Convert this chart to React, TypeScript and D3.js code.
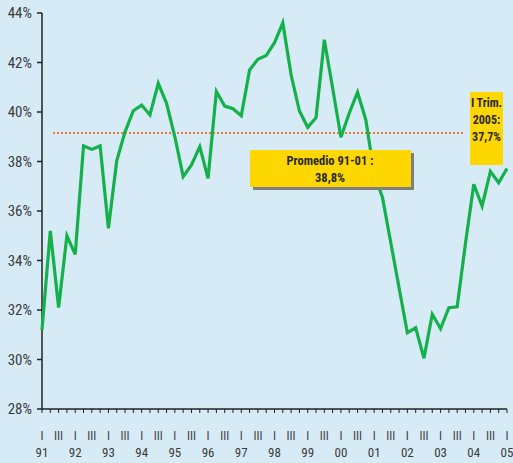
import * as d3 from 'd3';

const years = ["91", "92", "93", "94", "95", "96", "97", "98", "99", "00", "01", "02", "03", "04", "05"];
const quarterMarks = ["I", "", "III", ""];
const yTicks = [28, 30, 32, 34, 36, 38, 40, 42, 44];

// share, % per quarter, 1991 I .. 2005 I
const values = [
  31.2, 35.2, 32.1, 35.0,
  34.25, 38.63, 38.49, 38.63,
  35.3, 38.03, 39.2, 40.05,
  40.28, 39.88, 41.16, 40.35,
  39.0, 37.39, 37.86, 38.6,
  37.32, 40.83, 40.24, 40.13,
  39.85, 41.7, 42.13, 42.28,
  42.8, 43.6, 41.5, 40.04,
  39.38, 39.77, 42.92, 40.97,
  38.98, 39.95, 40.8, 39.68,
  37.5, 36.55, 34.73, 32.9,
  31.08, 31.28, 30.05, 31.83,
  31.25, 32.09, 32.13, 34.7,
  37.08, 36.2, 37.6, 37.14,
  37.72,
];
const averageLevel = 39.15; // where the dotted line sits in the picture
const averageLabel = ["Promedio 91-01 :", "38,8%"];
const lastLabel = ["I Trim.", "2005:", "37,7%"];

const W = 513;
const H = 463;
const font = "'Liberation Sans Narrow', 'Arial Narrow', 'Roboto Condensed', sans-serif";

export default function App() {
  const x = d3.scaleLinear().domain([0, values.length - 1]).range([42, 507]);
  const y = d3.scaleLinear().domain([28, 44]).range([409, 13]);

  const line = d3.line<number>()
    .x((d, i) => x(i))
    .y(d => y(d));

  const quarterIdx = d3.range(values.length);

  return (
    <svg width={W} height={H} style={{ position: 'absolute', left: 0, top: 0 }} fontFamily={font}>
      <rect width={W} height={H} fill="#d6ebf6" />

      {/* y axis */}
      <line x1={x(0)} x2={x(0)} y1={y(44)} y2={y(28)} stroke="#222" strokeWidth={1.5} />
      {yTicks.map(t => (
        <g key={t}>
          <line x1={x(0) - 5} x2={x(0)} y1={y(t)} y2={y(t)} stroke="#222" strokeWidth={1.5} />
          <text x={32} y={y(t)} dy="0.35em" textAnchor="end" fontSize={15} fill="#3c3c3c">{t}%</text>
        </g>
      ))}

      {/* x axis */}
      <line x1={x(0)} x2={x(values.length - 1)} y1={y(28)} y2={y(28)} stroke="#222" strokeWidth={1.5} />
      {quarterIdx.map(i => (
        <line key={i} x1={x(i)} x2={x(i)} y1={y(28)} y2={y(28) + 4} stroke="#222" strokeWidth={1} />
      ))}
      {quarterIdx.map(i => (
        <text key={'q' + i} x={x(i)} y={440} textAnchor="middle" fontSize={12} fill="#3c3c3c">{quarterMarks[i % 4]}</text>
      ))}
      {years.map((yr, k) => (
        <text key={yr} x={x(k * 4)} y={457} textAnchor="middle" fontSize={13} fill="#3c3c3c">{yr}</text>
      ))}

      {/* average */}
      <line x1={53} x2={465} y1={y(averageLevel)} y2={y(averageLevel)} stroke="#f07a35" strokeWidth={2} strokeDasharray="2 2" />

      <path d={line(values) ?? ''} fill="none" stroke="#14b14b" strokeWidth={3.2} strokeLinejoin="miter" />

      {/* average label */}
      <rect x={253} y={153} width={161} height={37} fill="#7f7f7f" />
      <rect x={250} y={150} width={161} height={37} fill="#ffd700" />
      {averageLabel.map((t, k) => (
        <text key={t} x={330} y={165 + k * 17} textAnchor="middle" fontSize={12.5} fontWeight="bold" fill="#2a2a2a">{t}</text>
      ))}

      {/* last quarter label */}
      <rect x={470} y={92} width={33} height={73} fill="#ffd700" />
      {lastLabel.map((t, k) => (
        <text key={t} x={486.5} y={107 + k * 17} textAnchor="middle" fontSize={12} fontWeight="bold" fill="#2a2a2a">{t}</text>
      ))}
    </svg>
  );
}
